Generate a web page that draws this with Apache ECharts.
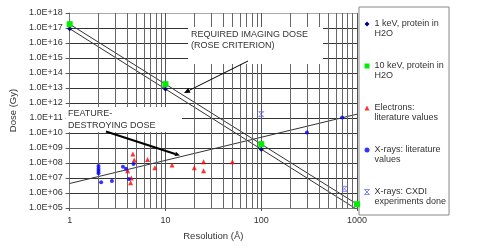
<!DOCTYPE html>
<html><head><meta charset="utf-8">
<script src="https://cdn.jsdelivr.net/npm/echarts@6/dist/echarts.min.js"></script>
<style>html,body{margin:0;padding:0;background:#fff}#c{width:485px;height:250px}</style>
</head><body><div id="c"></div>
<script>
// ---- data ----
const resolutions = [1, 10, 100, 1000];
const dose1keV = [9e16, 8.5e12, 8.3e8, 8e4];
const dose10keV = [1.8e17, 1.8e13, 1.8e9, 1.8e5];
const featureX = [1, 1000];
const featureDose = [4.3e6, 1.8e11];
const electronX = [4.57, 4.72, 4.03, 4.4, 4.32, 6.5, 7.75, 11.7, 20, 25, 25, 50];
const electronDose = [4e8, 1.6e8, 3e7, 1e7, 4.9e6, 1.7e8, 4.9e7, 7.4e7, 4.9e7, 1.2e8, 3.1e7, 1.2e8];
const xrayLitX = [2, 2, 2, 2, 2.13, 2.76, 3.6, 3.87, 4.64, 4.15, 300, 700];
const xrayLitDose = [6.3e7, 4.2e7, 2.9e7, 2.1e7, 5.2e6, 6.3e6, 5.6e7, 4.2e7, 8.5e7, 8.5e6, 1.1e10, 1.1e11];
const cxdiX = [100, 740];
const cxdiDose = [1.8e11, 1.9e6];
const minorGridX = [2,3,4,5,6,7,8,9,20,30,40,50,60,70,80,90,200,300,400,500,600,700,800,900];
const seriesNames = ['1 keV, protein in\nH2O', '10 keV, protein in\nH2O', 'Electrons:\nliterature values', 'X-rays: literature\nvalues', 'X-rays: CXDI\nexperiments done'];
const xAxisTitle = 'Resolution (Å)';
const yAxisTitle = 'Dose (Gy)';
const noteRequired = 'REQUIRED IMAGING DOSE\n(ROSE CRITERION)';
const noteFeature = 'FEATURE-\nDESTROYING DOSE';

const FONT = '"Liberation Sans", Arial, sans-serif';
const xIcon = 'path://M0,0L10,10M10,0L0,10M0,0L10,0M0,10L10,10';
const pairs = (xs, ys) => xs.map((x, i) => [x, ys[i]]);

function arrow(x1, y1, x2, y2, w, head) {
  const a = Math.atan2(y2 - y1, x2 - x1);
  const hl = head, hw = head * 0.45;
  const bx = x2 - hl * Math.cos(a), by = y2 - hl * Math.sin(a);
  const px = -Math.sin(a) * hw, py = Math.cos(a) * hw;
  return [
    { type: 'line', z: 11, shape: { x1, y1, x2: bx, y2: by }, style: { stroke: '#000', lineWidth: w } },
    { type: 'polygon', z: 11, shape: { points: [[x2, y2], [bx + px, by + py], [bx - px, by - py]] }, style: { fill: '#000' } }
  ];
}

const chart = echarts.init(document.getElementById('c'), null, { renderer: 'canvas' });
const ySplitColors = [];
for (let i = 0; i < 13; i++) ySplitColors.push('#333');
ySplitColors.push('#aaa');

chart.setOption({
  animation: false,
  backgroundColor: '#fff',
  textStyle: { fontFamily: FONT },
  grid: { left: 65, right: 128, top: 13, bottom: 42 },
  xAxis: {
    type: 'log', logBase: 10, min: 1, max: 1000, interval: 1,
    name: xAxisTitle, nameLocation: 'middle', nameGap: 23,
    nameTextStyle: { fontSize: 9.5, color: '#333', fontFamily: FONT },
    axisLine: { show: true, lineStyle: { color: '#777', width: 1 } },
    axisTick: { show: true, length: 3, lineStyle: { color: '#555' } },
    axisLabel: { fontSize: 9, color: '#333', margin: 8, fontFamily: FONT, formatter: v => String(Math.round(v)) },
    splitLine: { show: true, lineStyle: { color: '#555', width: 1 } }
  },
  yAxis: {
    type: 'log', logBase: 10, min: 1e5, max: 1e18, interval: 1,
    name: yAxisTitle, nameLocation: 'middle', nameGap: 45,
    nameTextStyle: { fontSize: 9.5, color: '#333', fontFamily: FONT },
    axisLine: { show: true, lineStyle: { color: '#777', width: 1 } },
    axisTick: { show: true, length: 4, lineStyle: { color: '#555' } },
    axisLabel: {
      fontSize: 9, color: '#333', margin: 7, fontFamily: FONT, interval: 0,
      formatter: v => { const e = Math.round(Math.log10(v)); return '1.0E+' + (e < 10 ? '0' + e : e); }
    },
    splitLine: { show: true, lineStyle: { color: ySplitColors, width: 1 } }
  },
  legend: {
    orient: 'vertical', left: 359, top: 7,
    padding: [2, 3, 8, 3], itemGap: 12, itemWidth: 5, itemHeight: 5,
    borderColor: '#888', borderWidth: 1, backgroundColor: '#fff',
    textStyle: { fontSize: 9, lineHeight: 10, color: '#333', fontFamily: FONT },
    formatter: n => '\n' + n,
    data: [
      { name: seriesNames[0], icon: 'diamond' },
      { name: seriesNames[1], icon: 'rect' },
      { name: seriesNames[2], icon: 'triangle' },
      { name: seriesNames[3], icon: 'circle' },
      { name: seriesNames[4], icon: xIcon, itemStyle: { color: 'none', borderColor: '#6b6bff', borderWidth: 1 } }
    ]
  },
  series: [
    {
      type: 'line', name: 'minorGrid', data: [], z: 1, silent: true,
      markLine: {
        silent: true, symbol: ['none', 'none'], label: { show: false }, animation: false,
        lineStyle: { color: '#666', type: 'solid', width: 1 }, emphasis: { disabled: true },
        data: minorGridX.map(v => ({ xAxis: v }))
      }
    },
    {
      type: 'line', name: 'feature', data: pairs(featureX, featureDose), showSymbol: false, symbol: 'none',
      lineStyle: { color: '#333', width: 1 }, z: 2, silent: true
    },
    {
      type: 'line', name: seriesNames[0], data: pairs(resolutions, dose1keV),
      symbol: 'diamond', symbolSize: 5, lineStyle: { color: '#333', width: 1 },
      itemStyle: { color: '#000080' }, z: 3
    },
    {
      type: 'line', name: seriesNames[1], data: pairs(resolutions, dose10keV),
      symbol: 'rect', symbolSize: 6, lineStyle: { color: '#333', width: 1 },
      itemStyle: { color: '#00ee00' }, z: 4
    },
    {
      type: 'scatter', name: seriesNames[2], data: pairs(electronX, electronDose),
      symbol: 'triangle', symbolSize: 5, itemStyle: { color: '#ff0000' }, z: 5
    },
    {
      type: 'scatter', name: seriesNames[3], data: pairs(xrayLitX, xrayLitDose),
      symbol: 'circle', symbolSize: 4, itemStyle: { color: '#0000ff' }, z: 6
    },
    {
      type: 'scatter', name: seriesNames[4], data: pairs(cxdiX, cxdiDose),
      symbol: xIcon, symbolSize: 5, itemStyle: { color: 'none', borderColor: '#6b6bff', borderWidth: 1 }, z: 7
    }
  ],
  graphic: [
    { type: 'rect', z: 10, shape: { x: 188, y: 27, width: 135, height: 37 }, style: { fill: '#fff' } },
    { type: 'text', z: 10, x: 191, y: 29.5, style: { text: noteRequired, fontSize: 9, lineHeight: 11, fill: '#333', fontFamily: FONT } },
    { type: 'rect', z: 10, shape: { x: 66, y: 107, width: 116, height: 25 }, style: { fill: '#fff' } },
    { type: 'text', z: 10, x: 68, y: 108, style: { text: noteFeature, fontSize: 9, lineHeight: 12, fill: '#333', fontFamily: FONT } },
    ...arrow(248, 61, 184, 93, 1, 6),
    ...arrow(106, 131.5, 180, 155.5, 2, 5)
  ]
});
</script></body></html>
